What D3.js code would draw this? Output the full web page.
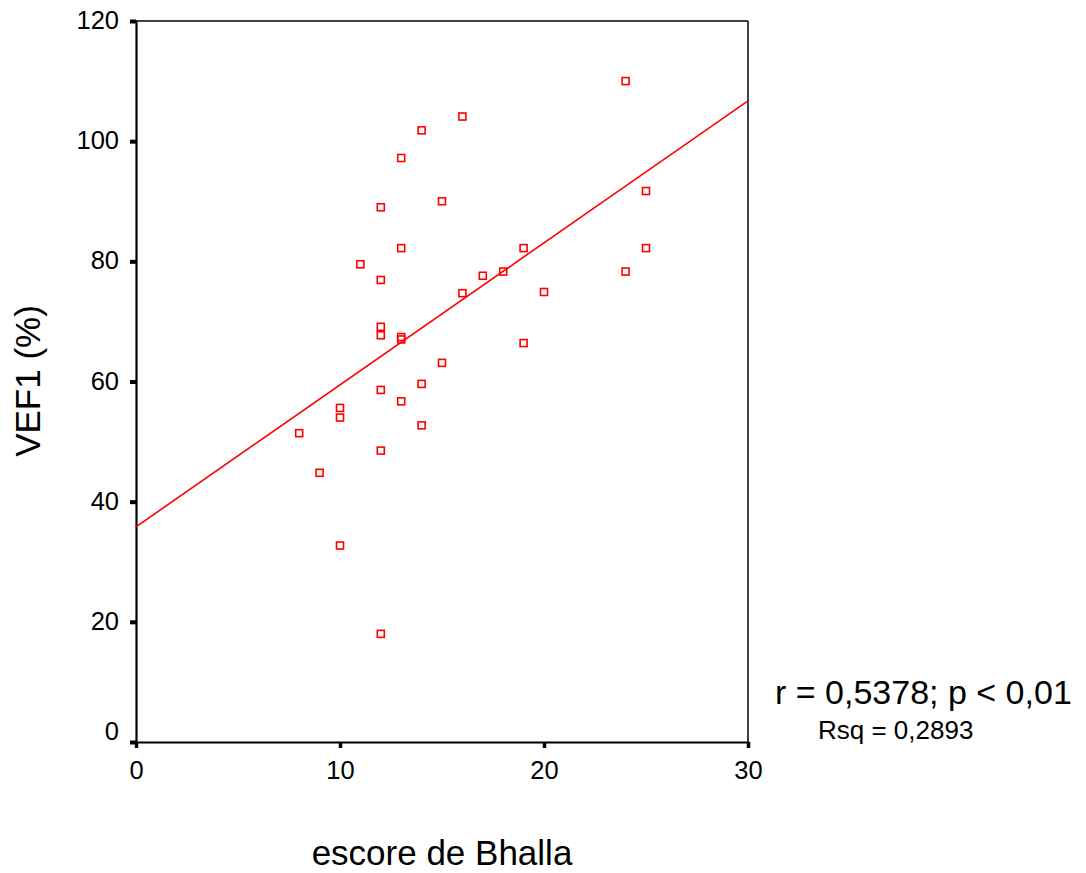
<!DOCTYPE html>
<html>
<head>
<meta charset="utf-8">
<script src="https://cdn.jsdelivr.net/npm/d3@7"></script>
<style>
  html, body { margin: 0; padding: 0; background: #fff; }
  svg { display: block; font-family: "Liberation Sans", Arial, Helvetica, sans-serif; }
</style>
</head>
<body>
<svg id="chart" width="1086" height="873"></svg>
<script>
// Bhalla score vs FEV1 (%) per patient
const bhallaScore = [24, 16, 14, 13, 15, 12, 25, 13, 19, 25, 11, 24, 18, 17, 12, 16, 20,
                     12, 12, 13, 13, 19, 15, 14, 12, 13, 10, 10, 8, 14, 12, 9, 10, 12];
const vef1Pct     = [110, 104.1, 101.8, 97.2, 90, 89, 91.7, 82.2, 82.2, 82.2, 79.5, 78.3, 78.3, 77.6, 76.9, 74.7, 74.9,
                     69.1, 67.7, 67.4, 67.0, 66.4, 63.1, 59.6, 58.6, 56.7, 55.6, 54.0, 51.4, 52.7, 48.5, 44.8, 32.7, 18.0];
const xTicks = [0, 10, 20, 30];
const yTicks = [0, 20, 40, 60, 80, 100, 120];
const xLabel = "escore de Bhalla";
const yLabel = "VEF1 (%)";
const statLine = "r = 0,5378; p < 0,01";
const rsqLine = "Rsq = 0,2893";

const svg = d3.select("#chart");
const x = d3.scaleLinear().domain([0, 30]).range([136, 748]);
const y = d3.scaleLinear().domain([0, 120]).range([742, 21]);

// least-squares fit
const mx = d3.mean(bhallaScore), my = d3.mean(vef1Pct);
let sxy = 0, sxx = 0;
bhallaScore.forEach((v, i) => { sxy += (v - mx) * (vef1Pct[i] - my); sxx += (v - mx) * (v - mx); });
const slope = sxy / sxx, intercept = my - slope * mx;

// frame: top and right edges
svg.append("line").attr("x1", x(0)).attr("x2", x(30)).attr("y1", y(120)).attr("y2", y(120))
  .attr("stroke", "#000").attr("stroke-width", 1.3);
svg.append("line").attr("x1", x(30)).attr("x2", x(30)).attr("y1", y(120)).attr("y2", y(0))
  .attr("stroke", "#000").attr("stroke-width", 1.5);

// axes
const yAxis = d3.axisLeft(y).tickValues(yTicks).tickSize(6).tickPadding(11);
const gy = svg.append("g").attr("transform", `translate(${x(0)},0)`).call(yAxis);
gy.select(".domain").attr("stroke-width", 2.2);
gy.selectAll(".tick line").attr("stroke-width", 4);
gy.selectAll(".tick text").attr("font-size", 25.5).attr("fill", "#000")
  .attr("dy", d => d === 0 ? "-0.1em" : "0.3em");

const xAxis = d3.axisBottom(x).tickValues(xTicks).tickSize(6).tickPadding(13);
const gx = svg.append("g").attr("transform", `translate(0,${y(0)})`).call(xAxis);
gx.select(".domain").attr("stroke-width", 2.2);
gx.selectAll(".tick line").attr("stroke-width", 3.5);
gx.selectAll(".tick text").attr("font-size", 25.5).attr("fill", "#000");
svg.selectAll(".domain").attr("stroke", "#000");

// regression line
svg.append("line")
  .attr("x1", x(0)).attr("y1", y(intercept))
  .attr("x2", x(30)).attr("y2", y(intercept + slope * 30))
  .attr("stroke", "#ff0000").attr("stroke-width", 1.6);

// points
svg.append("g").selectAll("rect")
  .data(bhallaScore.map((v, i) => [v, vef1Pct[i]]))
  .join("rect")
  .attr("x", d => x(d[0]) - 3.5).attr("y", d => y(d[1]) - 3.5)
  .attr("width", 7).attr("height", 7)
  .attr("fill", "none").attr("stroke", "#ff0000").attr("stroke-width", 1.6);

// labels
svg.append("text").attr("x", 442).attr("y", 865).attr("text-anchor", "middle")
  .attr("font-size", 35).text(xLabel);
svg.append("text").attr("transform", "translate(39.5,381) rotate(-90)").attr("text-anchor", "middle")
  .attr("font-size", 35).text(yLabel);
svg.append("text").attr("x", 775).attr("y", 704).attr("font-size", 34).text(statLine);
svg.append("text").attr("x", 818).attr("y", 739).attr("font-size", 26).text(rsqLine);
</script>
</body>
</html>
